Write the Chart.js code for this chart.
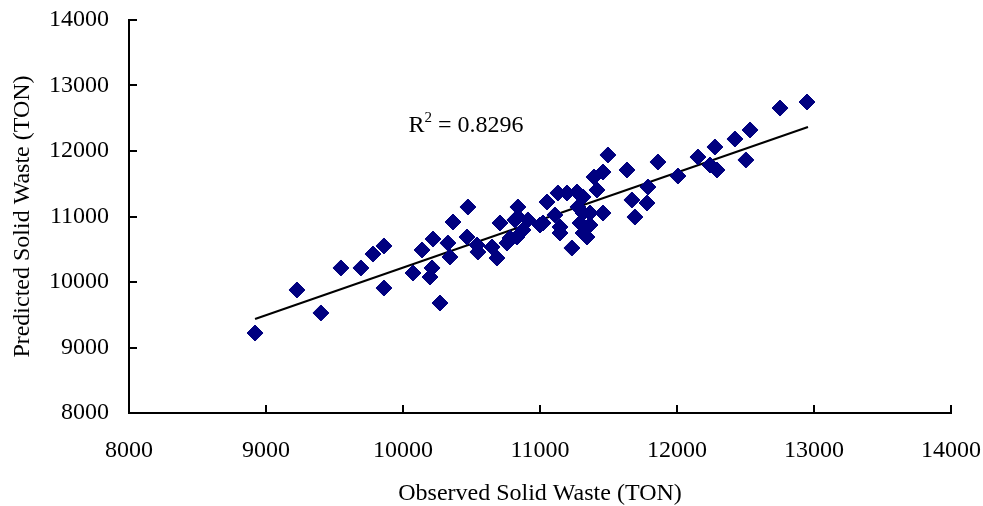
<!DOCTYPE html>
<html>
<head>
<meta charset="utf-8">
<script src="https://cdn.jsdelivr.net/npm/chart.js@4.4.0/dist/chart.umd.min.js"></script>
<style>
html, body { margin: 0; padding: 0; background: #fff; }
#wrap { width: 983px; height: 506px; position: relative; }
</style>
</head>
<body>
<div id="wrap"><canvas id="wasteChart"></canvas></div>
<script>
// observed vs predicted solid waste (TON)
const observed = [
    8920, 9226, 9401, 9547, 9693, 9781, 9861, 9861, 10073, 10139,
    10219, 10197, 10212, 10270, 10328, 10343, 10365, 10474, 10467, 10540,
    10547, 10650, 10686, 10708, 10781, 10759, 10817, 10839, 10876, 10912,
    11000, 11051, 11131, 11109, 11146, 11146, 11233, 11197, 11270, 11314,
    11416, 11277, 11314, 11365, 11292, 11365, 11314, 11343, 11460, 11394,
    11460, 11496, 11635, 11693, 11671, 11781, 11788, 11861, 12007, 12153,
    12241, 12292, 12277, 12423, 12503, 12533, 12752, 12949, 10839, 10832,
    11022
];
const predicted = [
    9221, 9878, 9527, 10214, 10214, 10427, 10550, 9908, 10137, 10489,
    10656, 10076, 10214, 9679, 10595, 10382, 10916, 11145, 10687, 10565,
    10458, 10534, 10366, 10901, 10672, 10595, 10947, 11145, 10794, 10947,
    10870, 11221, 11359, 11023, 10840, 10748, 10519, 11359, 11374, 11298,
    11405, 11145, 11053, 11053, 10901, 10870, 10748, 10687, 11053, 11603,
    11679, 11939, 11710, 10992, 11252, 11206, 11450, 11832, 11618, 11908,
    11786, 11710, 12061, 12183, 11863, 12321, 12656, 12748, 10992, 10687,
    10901
];
// linear trend line end points
const trendObserved = [8920, 12956];
const trendPredicted = [9435, 12366];
const rSquared = '0.8296';

const axisMin = 8000;
const axisMax = 14000;
const axisStep = 1000;

const FONT = 'Liberation Serif, Times New Roman, serif';

// 目盛りを内側に描く
const innerTicks = {
    id: 'innerTicks',
    afterDraw(chart) {
        const { ctx, scales: { x, y } } = chart;
        ctx.save();
        ctx.strokeStyle = '#000';
        ctx.lineWidth = 2;
        ctx.beginPath();
        x.ticks.forEach(t => {
            const px = Math.round(x.getPixelForValue(t.value));
            ctx.moveTo(px, x.top);
            ctx.lineTo(px, x.top - 8);
        });
        y.ticks.forEach(t => {
            const py = Math.round(y.getPixelForValue(t.value));
            ctx.moveTo(y.right, py);
            ctx.lineTo(y.right + 8, py);
        });
        ctx.stroke();
        ctx.restore();
    }
};

// R² ラベル
const rLabel = {
    id: 'rLabel',
    afterDraw(chart) {
        const { ctx, scales: { x, y } } = chart;
        const px = x.getPixelForValue(10040);
        const py = y.getPixelForValue(12290);
        ctx.save();
        ctx.fillStyle = '#000';
        ctx.textBaseline = 'alphabetic';
        ctx.textAlign = 'left';
        ctx.font = '24px ' + FONT;
        ctx.fillText('R', px, py);
        let w = ctx.measureText('R').width;
        ctx.font = '15px ' + FONT;
        ctx.fillText('2', px + w, py - 10);
        w += ctx.measureText('2').width;
        ctx.font = '24px ' + FONT;
        ctx.fillText(' = ' + rSquared, px + w, py);
        ctx.restore();
    }
};

const points = observed.map((v, i) => ({ x: v, y: predicted[i] }));
const trend = trendObserved.map((v, i) => ({ x: v, y: trendPredicted[i] }));

const ctx = document.getElementById('wasteChart').getContext('2d');
new Chart(ctx, {
    type: 'scatter',
    data: {
        datasets: [
            {
                label: 'trend',
                type: 'line',
                data: trend,
                borderColor: '#000',
                borderWidth: 2,
                pointRadius: 0,
                fill: false,
                order: 2
            },
            {
                label: 'Solid Waste',
                data: points,
                pointStyle: 'rectRot',
                pointRadius: 8,
                backgroundColor: '#000080',
                borderColor: '#000080',
                borderWidth: 1,
                order: 1
            }
        ]
    },
    options: {
        responsive: true,
        maintainAspectRatio: false,
        animation: false,
        events: [],
        layout: { padding: { top: 20, right: 32, left: 0, bottom: 0 } },
        plugins: {
            legend: { display: false },
            tooltip: { enabled: false }
        },
        scales: {
            x: {
                type: 'linear',
                min: axisMin,
                max: axisMax,
                ticks: {
                    stepSize: axisStep,
                    padding: 23,
                    color: '#000',
                    font: { family: FONT, size: 24 },
                    callback: v => String(v)
                },
                grid: { drawOnChartArea: false, drawTicks: false },
                border: { color: '#000', width: 2 },
                title: {
                    display: true,
                    text: 'Observed Solid Waste (TON)',
                    color: '#000',
                    font: { family: FONT, size: 24, lineHeight: 1 },
                    padding: { top: 0, bottom: 0 }
                },
                afterFit(scale) {
                    scale.height = 93;
                    scale.paddingLeft = 0;
                    scale.paddingRight = 0;
                }
            },
            y: {
                type: 'linear',
                min: axisMin,
                max: axisMax,
                ticks: {
                    stepSize: axisStep,
                    padding: 20,
                    color: '#000',
                    font: { family: FONT, size: 24 },
                    callback: v => String(v)
                },
                grid: { drawOnChartArea: false, drawTicks: false },
                border: { color: '#000', width: 2 },
                title: {
                    display: true,
                    text: 'Predicted Solid Waste (TON)',
                    color: '#000',
                    font: { family: FONT, size: 24 },
                    padding: { top: 8, bottom: 0 }
                },
                afterFit(scale) {
                    scale.width = 129;
                    scale.paddingTop = 0;
                    scale.paddingBottom = 0;
                }
            }
        }
    },
    plugins: [innerTicks, rLabel]
});
</script>
</body>
</html>
